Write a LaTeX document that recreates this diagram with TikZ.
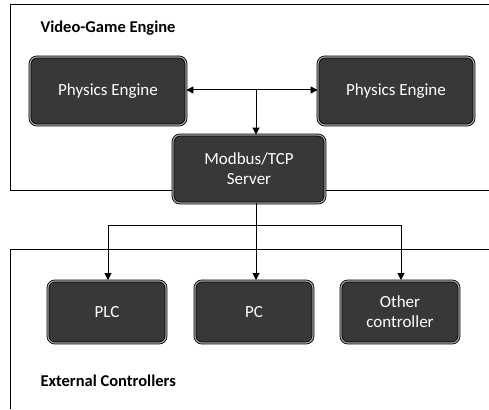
\documentclass[tikz,border=0pt]{standalone}
\usepackage{fontspec}
\setmainfont{Carlito}
\usetikzlibrary{arrows.meta}
\begin{document}
\begin{tikzpicture}[x=1pt,y=-1pt,
  blk/.style={draw=black, line width=0.8pt, double=black!35, double distance=1.2pt,
    rounded corners=7pt, fill=black!78, text=white, font=\fontsize{17}{20}\selectfont,
    align=center, inner sep=0pt},
  frame/.style={line width=1pt},
  conn/.style={line width=1pt, -{Triangle[length=7pt,width=7pt]}},
  lbl/.style={font=\bfseries\fontsize{16.5}{19}\selectfont, anchor=west}]
\useasboundingbox[fill=white] (0,0) rectangle (489,409);
% frames
\coordinate (f1a) at (489,5);
\coordinate (f1b) at (10,5);
\coordinate (f1c) at (10,190);
\coordinate (f1d) at (489,190);
\draw[frame] (f1a) -- (f1b) -- (f1c) -- (f1d);
\coordinate (f2a) at (489,249);
\coordinate (f2b) at (10,249);
\coordinate (f2c) at (10,409);
\draw[frame] (f2a) -- (f2b) -- (f2c);
\node[lbl] (vge) at (37,28) {Video-Game Engine};
\node[lbl] (ext) at (37,381) {External Controllers};
% boxes
\node[blk, minimum width=156, minimum height=68] (pe1) at (108,91) {Physics Engine};
\node[blk, minimum width=156, minimum height=68] (pe2) at (396,91) {Physics Engine};
\node[blk, minimum width=152, minimum height=68] (srv) at (249,169) {Modbus/TCP\\Server};
\node[blk, minimum width=118, minimum height=62] (plc) at (107,312) {PLC};
\node[blk, minimum width=118, minimum height=62] (pc) at (254,312) {PC};
\node[blk, minimum width=118, minimum height=62] (oth) at (400,312) {Other\\controller};
% connectors
\coordinate (j1) at (256,90);
\coordinate (j2) at (256,225);
\draw[conn] (j1) -- (pe1.east |- j1);
\draw[conn] (j1) -- (pe2.west |- j1);
\draw[conn] (j1) -- (j1 |- srv.north);
\draw[line width=1pt] (j2 |- srv.south) -- (j2);
\draw[conn] (j2) -- (108,225) -- (108,280);
\draw[conn] (j2) -- (256,280);
\draw[conn] (j2) -- (401,225) -- (401,280);
\end{tikzpicture}
\end{document}
